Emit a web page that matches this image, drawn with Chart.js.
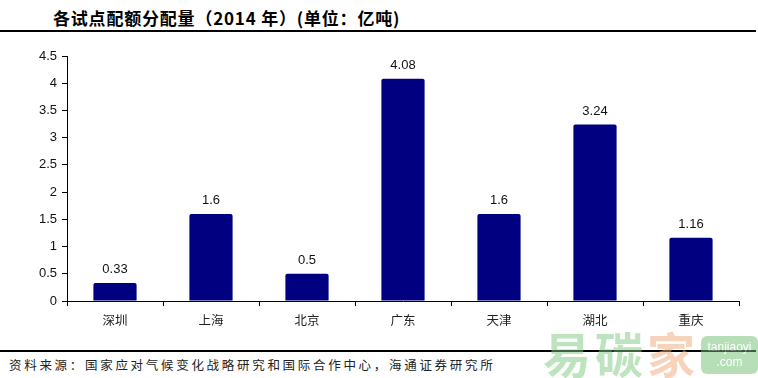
<!DOCTYPE html>
<html><head><meta charset="utf-8">
<script src="https://cdn.jsdelivr.net/npm/chart.js@4"></script>
<style>
html,body{margin:0;padding:0;background:#fff;width:758px;height:378px;overflow:hidden;position:relative;}
#title{position:absolute;left:53px;top:5px;font:bold 17px "Noto Sans CJK SC",sans-serif;color:#000;white-space:nowrap;letter-spacing:0.8px;}
.rule{position:absolute;left:0;width:756px;height:2px;background:#000;}
#foot{position:absolute;left:9px;top:355px;font:12.5px "Noto Sans CJK SC",serif;color:#222;letter-spacing:2.7px;white-space:nowrap;}
#wrap{position:absolute;left:0;top:40px;width:758px;height:300px;}
#wm{position:absolute;left:543px;top:324px;width:215px;height:56px;opacity:0.5;pointer-events:none;}
#wm .c{position:absolute;top:0;font:bold 48px "Noto Sans CJK SC",sans-serif;line-height:56px;}
#wm .box{position:absolute;left:158px;top:12px;width:57px;height:38px;background:#6fbf73;border-radius:6px;color:#fff;font:12px "Liberation Sans",sans-serif;text-align:center;line-height:15px;padding-top:4px;box-sizing:border-box;}
</style></head>
<body>
<div id="title">各试点配额分配量（2014 年）(单位：亿吨)</div>
<div class="rule" style="top:30px"></div>
<div id="wrap"><canvas id="c" width="758" height="300"></canvas></div>
<div class="rule" style="top:350px"></div>
<div id="foot">资料来源：国家应对气候变化战略研究和国际合作中心，海通证券研究所</div>
<div id="wm"><span class="c" style="left:0;color:#7cc97f">易</span><span class="c" style="left:52px;color:#7cc97f">碳</span><span class="c" style="left:104px;color:#f2a77a">家</span><div class="box">tanjiaoyi<br>.com</div></div>
<script>
const categories = ["深圳","上海","北京","广东","天津","湖北","重庆"];
const allowances = [0.33, 1.6, 0.5, 4.08, 1.6, 3.24, 1.16];
const valueLabels = ["0.33","1.6","0.5","4.08","1.6","3.24","1.16"];
const yTicks = [0,0.5,1,1.5,2,2.5,3,3.5,4,4.5];

const labelPlugin = {
  id:'vlabels',
  afterDatasetsDraw(chart){
    const ctx = chart.ctx;
    const meta = chart.getDatasetMeta(0);
    ctx.save();
    ctx.font = '13px "Liberation Sans", Arial, sans-serif';
    ctx.fillStyle = '#111';
    ctx.textAlign = 'center';
    ctx.textBaseline = 'bottom';
    meta.data.forEach((bar,i)=>{
      ctx.fillText(valueLabels[i], bar.x, bar.y - 7);
    });
    ctx.restore();
  }
};

new Chart(document.getElementById('c'), {
  type:'bar',
  data:{labels:categories, datasets:[{data:allowances, backgroundColor:'#000080', borderWidth:0, borderRadius:2, barPercentage:0.45, categoryPercentage:1}]},
  options:{
    responsive:false, animation:false,
    layout:{padding:{top:16,right:19,left:0,bottom:0}},
    plugins:{legend:{display:false}, tooltip:{enabled:false}},
    scales:{
      x:{
        grid:{drawOnChartArea:false, offset:true, tickLength:5, color:'#000', tickWidth:1},
        border:{color:'#000', width:1},
        ticks:{font:{size:12.5, family:'"Noto Sans CJK SC", serif'}, color:'#222', padding:7},
        afterFit(s){ s.height = 39; }
      },
      y:{
        min:0, max:4.5,
        afterBuildTicks(s){ s.ticks = yTicks.map(v=>({value:v})); },
        grid:{drawOnChartArea:false, tickLength:5, color:'#000'},
        border:{color:'#000', width:1},
        ticks:{font:{size:13, family:'"Liberation Sans", Arial, sans-serif'}, color:'#111', padding:5, callback:v=>String(v)},
        afterFit(s){ s.width = 67; }
      }
    }
  },
  plugins:[labelPlugin]
});
</script>
</body></html>
